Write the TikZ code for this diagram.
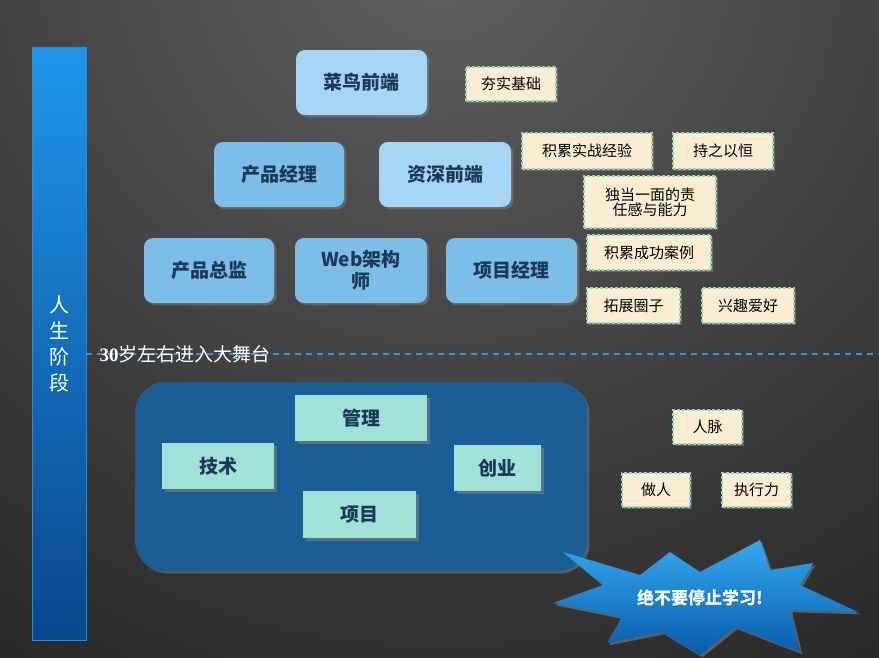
\documentclass[tikz,border=0pt]{standalone}
\usepackage{fontspec}
\setmainfont{Liberation Serif}
\newfontfamily\cjk{Noto Sans CJK SC}
\usetikzlibrary{shadows}
\definecolor{bgtop}{HTML}{606060}
\definecolor{bgbot}{HTML}{1E1E1E}
\definecolor{boxA}{HTML}{A6D6F5}
\definecolor{boxB}{HTML}{7DBDE9}
\definecolor{boxtxt}{HTML}{1C3A58}
\definecolor{tagfill}{HTML}{FBEDD2}
\definecolor{tagline}{HTML}{8FD6BC}
\definecolor{inner}{HTML}{A0E2D8}
\definecolor{bigbox}{HTML}{1B5E95}
\begin{document}
\begin{tikzpicture}[x=1pt,y=-1pt,
  pbox/.style={rounded corners=9pt,text=boxtxt,font=\cjk\bfseries\fontsize{19}{22}\selectfont,align=center,drop shadow={opacity=0.5}},
  tag/.style={fill=tagfill,draw=tagline,dash pattern=on 3pt off 2pt,line width=1.2pt,text=black,font=\cjk\fontsize{15}{18}\selectfont,align=center,drop shadow={opacity=0.6}},
  ibox/.style={fill=inner,text=boxtxt,font=\cjk\bfseries\fontsize{19}{22}\selectfont,drop shadow={opacity=0.6,shadow xshift=3pt,shadow yshift=-3pt}}]
\useasboundingbox (0,0) rectangle (879,657);
\begin{scope}
\clip (0,0) rectangle (879,657);
\fill[bgbot] (0,0) rectangle (879,657);
\shade[inner color=bgtop,outer color=bgbot] (440,-60) circle (1000);
\end{scope}
% left bar
\node[shade,top color={rgb,255:red,30;green,150;blue,235},bottom color={rgb,255:red,10;green,70;blue,140},draw={rgb,255:red,40;green,140;blue,220},minimum width=54pt,minimum height=593pt,inner sep=0pt,anchor=north west] (bar) at (32,47) {};
\node[text=white,font=\cjk\fontsize{20}{26}\selectfont,align=center] (life) at (bar.center) {人\\生\\阶\\段};
% dashed line
\coordinate (dl) at (86,354);
\coordinate (dr) at (879,354);
\draw[color={rgb,255:red,60;green,145;blue,220},line width=1.2pt,dash pattern=on 6pt off 5pt] (dl) -- (dr);
\node[anchor=west,text=white,font=\bfseries\fontsize{19}{21}\selectfont] (age) at (96,354) {30{\cjk\mdseries 岁左右进入大舞台}};
% top boxes
\node[pbox,fill=boxA,minimum width=131pt,minimum height=65pt] (n1) at (361.5,82.5) {菜鸟前端};
\node[pbox,fill=boxB,minimum width=130pt,minimum height=65pt] (n2) at (279,174.5) {产品经理};
\node[pbox,fill=boxA,minimum width=132pt,minimum height=65pt] (n3) at (445,174.5) {资深前端};
\node[pbox,fill=boxB,minimum width=130pt,minimum height=65pt] (n4) at (209,270.5) {产品总监};
\node[pbox,fill=boxB,minimum width=132pt,minimum height=65pt] (n5) at (361,270.5) {Web{\cjk 架构}\\师};
\node[pbox,fill=boxB,minimum width=131pt,minimum height=65pt] (n6) at (511.5,270.5) {项目经理};
% tags
\node[tag,minimum width=90pt,minimum height=34pt] (t1) at (511,84) {夯实基础};
\node[tag,minimum width=130pt,minimum height=36pt] (t2) at (587,151) {积累实战经验};
\node[tag,minimum width=100pt,minimum height=36pt] (t3) at (723,151) {持之以恒};
\node[tag,minimum width=132pt,minimum height=52pt,inner sep=2pt] (t4) at (650,202) {独当一面的责\\[-3pt]任感与能力};
\node[tag,minimum width=124pt,minimum height=35pt] (t5) at (649,252.5) {积累成功案例};
\node[tag,minimum width=93pt,minimum height=35pt] (t6) at (633.5,305.5) {拓展圈子};
\node[tag,minimum width=92pt,minimum height=35pt] (t7) at (748,305.5) {兴趣爱好};
\node[tag,minimum width=69pt,minimum height=34pt] (t8) at (707.5,427) {人脉};
\node[tag,minimum width=68pt,minimum height=34pt] (t9) at (656,490) {做人};
\node[tag,minimum width=69pt,minimum height=34pt] (t10) at (756.5,490) {执行力};
% big box
\node[fill=bigbox,rounded corners=30pt,minimum width=452pt,minimum height=189pt,anchor=north west,drop shadow={opacity=0.5}] (big) at (135,382) {};
\node[ibox,minimum width=132pt,minimum height=46pt] (m1) at (361,418) {管理};
\node[ibox,minimum width=112pt,minimum height=46pt] (m2) at (218,466) {技术};
\node[ibox,minimum width=87pt,minimum height=46pt] (m3) at (497.5,468) {创业};
\node[ibox,minimum width=113pt,minimum height=47pt] (m4) at (359.5,514.5) {项目};
% starburst
\shade[top color={rgb,255:red,50;green,170;blue,240},bottom color={rgb,255:red,10;green,90;blue,170},drop shadow={opacity=0.6}]
 (563,552) -- (640,575) -- (670,552) -- (700,572) -- (760,540) -- (770,570) -- (813,563) -- (800,585) -- (858,612) -- (790,610) -- (800,652) -- (735,627) -- (700,655) -- (662,632) -- (607,643) -- (622,617) -- (553,603) -- (603,585) -- cycle;
\node[text=white,font=\cjk\bfseries\fontsize{17}{20}\selectfont] (star) at (700,598) {绝不要停止学习{\bfseries !}};
\end{tikzpicture}
\end{document}
